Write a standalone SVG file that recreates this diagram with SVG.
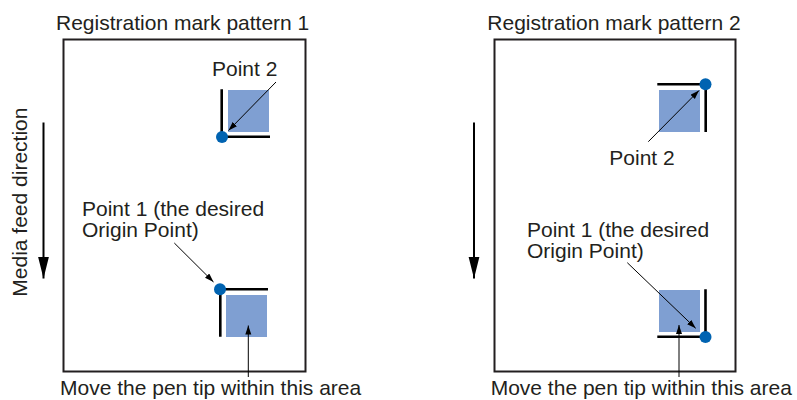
<svg xmlns="http://www.w3.org/2000/svg" width="797" height="400" viewBox="0 0 797 400">
<style>
text{font-family:"Liberation Sans",Arial,sans-serif;font-size:21px;fill:#231f20}
.frame{fill:none;stroke:#231f20;stroke-width:2}
.mark{fill:none;stroke:#000;stroke-width:2.6}
.area{fill:#7f9fd2}
.dot{fill:#0063b1}
.lead{fill:none;stroke:#000;stroke-width:1;marker-end:url(#ah)}
.feed{fill:none;stroke:#000;stroke-width:2;marker-end:url(#big)}
</style>
<defs>
<marker id="ah" markerUnits="userSpaceOnUse" markerWidth="10" markerHeight="7" refX="9" refY="3" orient="auto"><path d="M0,0 L9,3 L0,6 z" fill="#000"/></marker>
<marker id="big" markerUnits="userSpaceOnUse" markerWidth="23" markerHeight="12" refX="22" refY="5.5" orient="auto"><path d="M0,0 L22,5.5 L0,11 z" fill="#000"/></marker>
</defs>
<g id="pattern1">
<text x="56" y="29.5">Registration mark pattern 1</text>
<rect class="frame" x="63.5" y="39.5" width="242" height="332"/>
</g>
<g id="pattern2">
<text x="487.3" y="29.5">Registration mark pattern 2</text>
<rect class="frame" x="494.5" y="39.5" width="241" height="332"/>
</g>
<g id="feed1">
<text transform="translate(26.5,296.7) rotate(-90)">Media feed direction</text>
</g>
<g id="p1-point2">
<rect class="area" x="228" y="90" width="41" height="42"/>
<path class="mark" d="M221.7,89.3 V136.7 H270"/>
<circle class="dot" cx="222" cy="137" r="6"/>
<text x="212" y="76">Point 2</text>
</g>
<g id="p1-point1">
<rect class="area" x="226" y="295" width="41" height="42"/>
<path class="mark" d="M268,289.3 H220.3 V336.7"/>
<circle class="dot" cx="220" cy="289.3" r="6"/>
<text x="82" y="215.7">Point 1 (the desired</text>
<text x="82" y="236.7">Origin Point)</text>
</g>
<g id="p1-area">
<text x="60" y="395.3">Move the pen tip within this area</text>
</g>
<g id="p2-point2">
<rect class="area" x="659" y="90" width="41" height="42"/>
<path class="mark" d="M657.3,84.3 H705.7 V132"/>
<circle class="dot" cx="705.5" cy="84.3" r="6"/>
<text x="609.3" y="164.5">Point 2</text>
</g>
<g id="p2-point1">
<rect class="area" x="659" y="290" width="41" height="42"/>
<path class="mark" d="M705.5,289.3 V336.8 H657.3"/>
<circle class="dot" cx="705.5" cy="337" r="6"/>
<text x="527" y="236.7">Point 1 (the desired</text>
<text x="527" y="257.7">Origin Point)</text>
</g>
<g id="p2-area">
<text x="490.7" y="395.3">Move the pen tip within this area</text>
</g>
<g id="connectors">
<line class="feed" x1="43.5" y1="122.5" x2="43.5" y2="278.5"/>
<line class="feed" x1="474" y1="122.5" x2="474" y2="278.5"/>
<line class="lead" x1="276" y1="82" x2="228.5" y2="130.5"/>
<line class="lead" x1="174.3" y1="243" x2="213.5" y2="282"/>
<line class="lead" x1="248.3" y1="377" x2="248.3" y2="325.5"/>
<line class="lead" x1="648.3" y1="141.7" x2="699" y2="90.5"/>
<line class="lead" x1="627.3" y1="262.7" x2="695.7" y2="328.3"/>
<line class="lead" x1="679" y1="377" x2="679" y2="325"/>
</g>
</svg>
